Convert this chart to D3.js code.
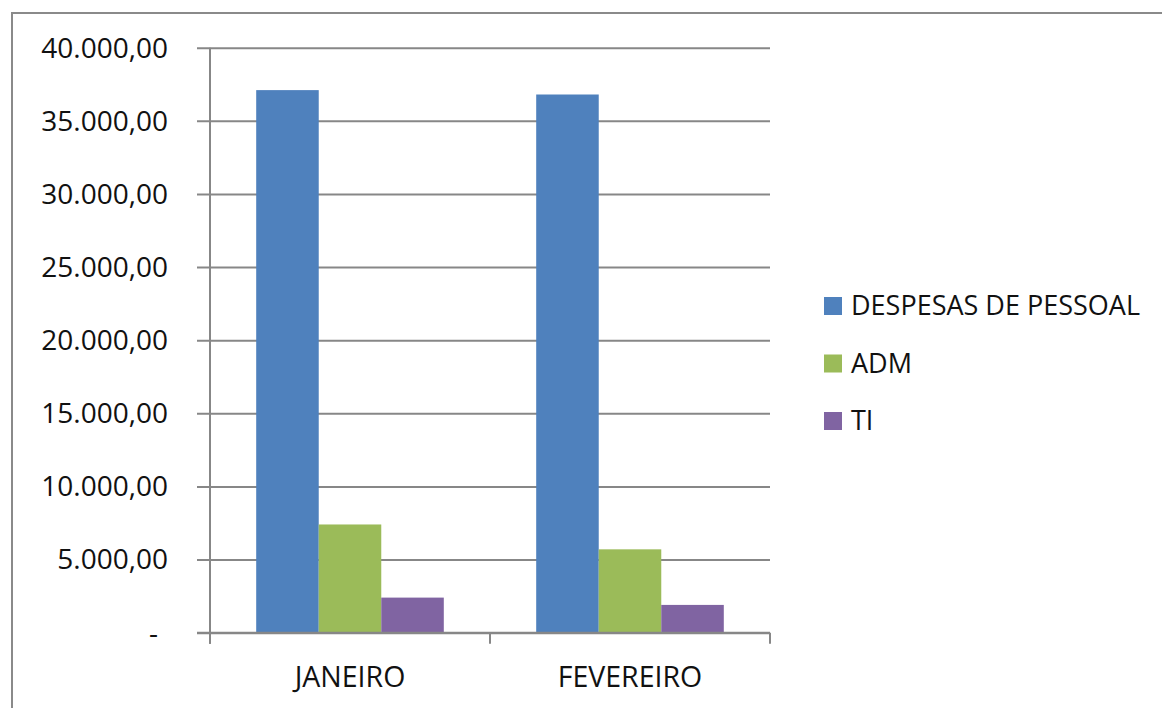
<!DOCTYPE html>
<html>
  <head>
    <meta charset="utf-8">
    <title>Despesas</title>
    <script src="https://d3js.org/d3.v7.min.js"></script>
    <style>
      body { margin: 0; background: #fff; }
      text { font-family: "Open Sans", sans-serif; fill: #111; }
    </style>
  </head>
  <body>
  <script>
  const months = ["JANEIRO", "FEVEREIRO"]
  const seriesNames = ["DESPESAS DE PESSOAL", "ADM", "TI"]
  const despesasPessoal = [37100, 36800]
  const adm = [7400, 5700]
  const ti = [2400, 1900]
  const yTicks = [0, 5000, 10000, 15000, 20000, 25000, 30000, 35000, 40000]
  const colors = ["#4f81bd", "#9bbb59", "#8064a2"]

  const W = 1162, H = 708
  const plot = {left: 210, right: 770, top: 47.7, bottom: 632.7}

  const rows = months.map((m, i) => ({
    month: m,
    values: [despesasPessoal[i], adm[i], ti[i]]
  }))

  const svg = d3.select("body").append("svg")
    .attr("width", W)
    .attr("height", H)

  // outer frame
  svg.append("rect")
    .attr("x", 12).attr("y", 13)
    .attr("width", W + 20).attr("height", H + 20)
    .attr("fill", "none")
    .attr("stroke", "#8a8a8a")
    .attr("stroke-width", 2)

  const y = d3.scaleLinear()
    .domain([0, 40000])
    .range([plot.bottom, plot.top])

  const x0 = d3.scaleBand()
    .domain(months)
    .range([plot.left, plot.right])
    .paddingInner(0.33)
    .paddingOuter(0.165)

  const x1 = d3.scaleBand()
    .domain(d3.range(seriesNames.length))
    .range([0, x0.bandwidth()])

  const fmt = v => v === 0 ? "-" : d3.format(",.2f")(v).replace(/,/g, "#").replace(/\./g, ",").replace(/#/g, ".")

  // gridlines + y axis
  const yAxis = d3.axisLeft(y)
    .tickValues(yTicks)
    .tickSize(-(plot.right - plot.left))
    .tickFormat("")
  const gy = svg.append("g")
    .attr("transform", `translate(${plot.left},0)`)
    .call(yAxis)
  gy.select(".domain").remove()
  gy.selectAll(".tick line")
    .attr("x1", -13)
    .attr("stroke", "#878787")
    .attr("stroke-width", 2)

  svg.append("line")
    .attr("x1", plot.left).attr("x2", plot.left)
    .attr("y1", plot.top).attr("y2", plot.bottom + 11)
    .attr("stroke", "#878787").attr("stroke-width", 2)

  svg.selectAll(".ylab")
    .data(yTicks)
    .enter()
      .append("text")
      .classed("ylab", true)
      .attr("x", d => d === 0 ? 158 : 168)
      .attr("y", d => y(d))
      .attr("dy", "0.35em")
      .attr("text-anchor", "end")
      .style("font-size", "28px")
      .text(fmt)

  // bars
  const groups = svg.selectAll(".grp")
    .data(rows)
    .enter()
      .append("g")
      .classed("grp", true)
      .attr("transform", d => `translate(${x0(d.month)},0)`)

  groups.selectAll("rect")
    .data(d => d.values)
    .enter()
      .append("rect")
      .attr("x", (d, i) => x1(i))
      .attr("width", x1.bandwidth())
      .attr("y", d => y(d))
      .attr("height", d => y(0) - y(d))
      .attr("fill", (d, i) => colors[i])

  // x axis
  const step = x0.step()
  const xTicks = d3.range(months.length + 1).map(i => plot.left + i * step)
  svg.append("line")
    .attr("x1", plot.left - 13).attr("x2", plot.right)
    .attr("y1", plot.bottom).attr("y2", plot.bottom)
    .attr("stroke", "#878787").attr("stroke-width", 2)
  svg.selectAll(".xtick")
    .data(xTicks)
    .enter()
      .append("line")
      .attr("x1", d => d).attr("x2", d => d)
      .attr("y1", plot.bottom).attr("y2", plot.bottom + 11)
      .attr("stroke", "#878787").attr("stroke-width", 2)

  svg.selectAll(".xlab")
    .data(months)
    .enter()
      .append("text")
      .attr("x", d => x0(d) + x0.bandwidth() / 2)
      .attr("y", 677)
      .attr("dy", "0.35em")
      .attr("text-anchor", "middle")
      .style("font-size", "28.5px")
      .text(d => d)

  // legend
  const leg = svg.selectAll(".leg")
    .data(seriesNames)
    .enter()
      .append("g")
      .attr("transform", (d, i) => `translate(824,${306 + i * 57.5})`)
  leg.append("rect")
    .attr("x", 0).attr("y", -9)
    .attr("width", 18).attr("height", 18)
    .attr("fill", (d, i) => colors[i])
  leg.append("text")
    .attr("x", 27)
    .attr("dy", "0.35em")
    .style("font-size", "27px")
    .text(d => d)
  </script>
  </body>
</html>
